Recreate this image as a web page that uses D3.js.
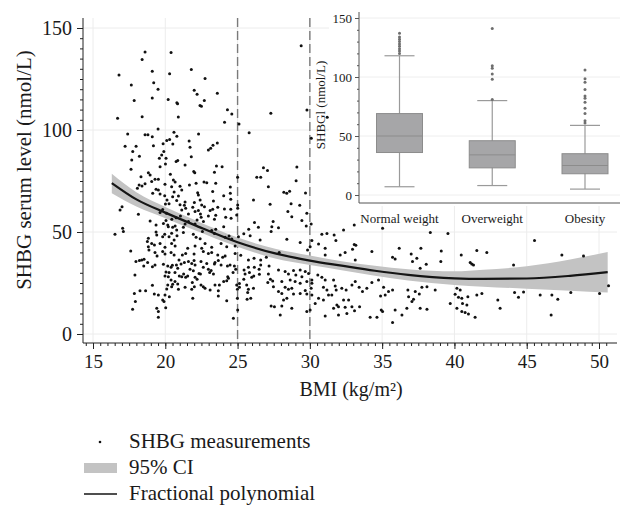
<!DOCTYPE html>
<html>
<head>
<meta charset="utf-8">
<script src="https://cdn.jsdelivr.net/npm/d3@7"></script>
<style>
body { margin: 0; background: #fff; }
svg text { font-family: "Liberation Serif", "DejaVu Serif", serif; fill: #1a1a1a; }
</style>
</head>
<body>
<script>
// SHBG vs BMI, scatter + fractional polynomial fit, inset box plot

// BMI (kg/m2), SHBG (nmol/L)
const measurements = [
  [18.6,138.2],[20.4,138],[18.4,134.5],[16.8,127],[19.1,128.8],[20.3,127.6],[21.8,129.7],[22.75,125.3],[17.65,122],[19.2,123.2],
  [19.5,120],[22.0,119.5],[22.2,117.5],[23.6,118],[17.85,114.4],[19.1,115.7],[20.2,114.9],[20.8,113.4],[20.85,112.9],[22.7,114.5],
  [22.4,112],[22.5,111.6],[24.3,109.9],[24.6,107.8],[16.7,105.7],[18.4,106.5],[20.9,106.4],[24.1,103.8],[25.1,102.9],[27.3,108.2],
  [19.5,100.5],[17.4,98],[18.6,97.7],[18.8,97.7],[19.1,96.7],[20.6,98.9],[20.8,96.9],[22.3,98],[25.8,98.7],[20.3,95.4],
  [29.4,141.3],[29.8,109.8],[31.2,106.2],[30.1,95.9],[29.1,81.9],[29.05,75.1],[28.2,69.5],[28.4,69],[28.6,70],[29.7,69.1],
  [28.7,63.9],[29.3,63.1],[25.0,76.8],
  [17.22,92.0],[17.98,92.0],[19.18,92.3],[19.85,93.3],[20.1,94.8],[20.52,93.1],[21.65,94.6],[21.71,91.5],[23.3,92.5],[23.6,93.6],
  [17.75,89.4],[19.9,89.4],[19.75,87.7],[18.21,87.1],[19.59,86.1],[20.05,86.1],[21.8,86.9],[17.68,85.3],[20.01,83.3],[20.75,84.5],
  [20.86,85.0],[21.37,82.8],[22.98,90.2],[23.14,91.0],
  [17.63,80.7],[19.64,82.0],[21.97,79.6],[22.04,79.1],[23.4,79.3],[23.54,82.4],[23.93,82.0],[26.79,81.5],[27.07,80.1],[18.32,77.1],
  [18.83,79.1],[18.95,77.9],[19.06,74.7],[20.35,78.3],[18.39,72.5],[18.6,73.7],[18.19,73.0],[19.29,75.8],[19.52,75.8],[19.98,73.4],
  [20.56,75.5],[20.68,74.5],[20.44,72.2],[21.02,72.4],[21.67,73.0],[22.13,73.9],[22.68,74.5],[22.87,74.2],[23.28,69.8],[23.49,73.9],
  [24.5,72.1],[26.33,76.8],[26.6,76.8],[27.13,72.2],
  [18.07,71.4],[19.36,70.9],[19.52,70.6],[19.13,69.0],[19.64,68.6],[20.61,69.6],[21.14,70.6],[20.91,67.7],[20.51,67.3],[19.96,67.8],
  [20.12,65.7],[20.01,63.7],[20.26,63.9],[20.79,65.5],[21.02,63.4],[21.37,64.7],[21.41,61.6],[21.32,63.1],[22.29,68.1],[22.24,69.3],
  [22.41,65.7],[22.01,64.4],[22.52,63.2],[22.71,62.4],[23.33,65.2],[24.04,67.8],[24.5,69.0],[24.53,66.0],[23.63,62.1],[24.09,61.3],
  [24.53,61.1],[25.01,63.2],[25.01,61.6],[26.1,65.7],[27.25,63.6],[17.01,62.4],[16.87,60.8],
  [18.14,58.7],[18.95,55.4],[19.64,59.5],[19.82,61.0],[20.08,59.2],[20.05,55.6],[20.17,53.4],[20.45,56.2],[20.75,57.0],[21.05,57.8],
  [21.14,60.8],[21.6,58.8],[21.9,62.1],[22.06,60.1],[22.29,60.5],[22.43,58.8],[22.48,57.2],[22.2,55.9],[22.64,55.1],[22.06,53.9],
  [21.6,55.1],[21.37,53.9],[21.25,52.3],[20.68,52.9],[20.51,52.3],[20.21,52.6],[19.87,54.2],[19.36,53.4],[23.1,60.5],[23.28,61.1],
  [22.98,57.8],[23.4,56.2],[23.49,58.2],[24.18,57.2],[24.04,52.6],[24.55,56.7],[24.94,58.3],[27.46,55.2],[26.17,54.6],
  [16.52,48.9],[17.05,51.8],[17.1,50.2],[19.36,50.0],[19.41,48.5],[19.82,47.7],[19.96,48.9],[20.26,47.7],[20.61,46.1],[20.81,48.2],
  [20.44,49.4],[20.79,51.0],[21.25,49.7],[21.94,48.9],[22.13,47.4],[22.41,46.7],[22.57,50.2],[23.21,50.7],[23.4,49.3],[23.49,51.3],
  [24.14,47.4],[24.41,48.0],[24.6,46.6],[25.06,47.7],[25.43,49.2],[25.77,51.3],[25.87,48.2],[26.44,52.3],[26.56,46.1],[27.32,50.2],
  [27.37,52.6],[18.83,46.9],[18.76,45.3],[19.06,44.4],[19.25,43.6],[18.83,42.8],[19.64,44.4],[19.98,42.5],[20.44,44.4],[20.68,43.1],
  [21.55,42.0],[22.06,43.1],[22.52,42.0],[22.75,44.4],[23.21,42.5],[23.86,44.4],[24.25,42.8],[24.83,43.1],
  [17.61,40.7],[18.87,41.2],[19.29,39.9],[19.43,38.2],[19.82,40.4],[19.98,39.2],[20.4,39.9],[20.61,38.7],[21.18,38.7],[21.41,39.5],
  [21.99,39.2],[22.63,40.4],[22.98,39.5],[23.21,39.9],[23.63,38.7],[23.97,37.6],[24.14,38.2],[24.83,39.5],[25.22,38.6],[25.75,36.3],
  [26.14,37.1],[26.6,36.3],[26.99,37.6],
  [17.97,35.5],[18.21,36.0],[18.37,36.3],[18.53,36.6],[18.78,35.0],[18.51,33.3],[19.11,33.0],[19.29,33.8],[19.87,34.2],[20.17,33.3],
  [20.49,33.7],[20.77,33.8],[20.4,32.7],[20.86,32.2],[21.09,34.3],[21.32,35.0],[20.95,36.3],[21.6,35.5],[21.83,34.6],[21.99,36.0],
  [22.06,33.8],[22.47,35.5],[22.63,32.7],[22.87,34.6],[22.98,31.7],[22.33,29.7],[21.94,31.0],[21.71,31.7],[21.27,29.4],[21.14,28.1],
  [20.97,28.4],[21.41,27.8],[21.55,28.4],[20.67,30.1],[20.26,30.1],[20.05,30.4],[19.98,28.4],[20.21,28.1],[22.06,27.8],[21.87,25.2],
  [22.2,26.8],[22.43,29.4],[23.07,30.1],[23.17,31.1],[23.33,29.4],[23.4,34.3],[23.67,36.0],[23.44,35.0],[23.86,33.8],[24.3,33.3],
  [24.48,33.8],[24.78,33.3],[24.87,31.7],[24.37,27.3],[24.25,26.1],[24.04,25.7],[23.74,24.0],[23.44,24.0],[22.63,23.2],[22.75,22.4],
  [22.47,24.0],[22.01,23.2],[21.83,21.9],[21.37,22.9],[20.91,21.9],[20.51,24.4],[20.44,23.2],[20.1,22.1],[20.86,24.5],[20.67,25.7],
  [20.4,26.5],[20.17,24.0],[24.32,28.1],[24.69,30.1],[24.94,24.0],[25.13,24.8],[25.13,22.9],[24.99,21.9],[25.45,31.4],[25.52,29.4],
  [25.75,32.7],[25.82,30.1],[26.16,32.7],[26.49,31.7],[26.51,29.3],[26.12,28.4],[25.98,27.8],[27.13,29.4],[27.27,26.8],[27.09,25.2],
  [27.43,26.0],[27.18,33.3],[26.6,33.8],[25.43,26.8],[25.63,24.0],[25.75,21.9],[25.7,20.3],[25.91,17.5],[25.66,17.0],[26.1,22.4],
  [27.48,23.2],[27.32,13.7],[27.55,13.4],[17.9,28.9],[17.86,19.9],[18.25,21.2],[18.64,21.2],[19.11,23.9],[19.24,19.6],[19.52,19.1],
  [19.98,19.1],[20.28,18.3],[19.91,15.9],[19.82,16.7],[19.41,12.6],[19.52,11.0],[19.52,8.2],[20.03,12.9],[17.93,15.9],[17.74,12.1],
  [21.9,17.5],[23.1,21.6],[23.67,21.2],[23.67,18.6],[24.25,16.3],[24.99,17.5],[25.01,11.8],[24.71,7.7],
  [28.48,60.0],[28.75,57.5],[29.79,59.2],[29.45,55.6],[29.75,52.9],[30.09,53.9],[27.83,52.1],[33.07,53.4],[32.33,51.0],[35.03,51.8],
  [30.83,48.9],[31.18,49.3],[31.68,48.5],[31.8,45.8],[38.33,49.8],[39.55,49.3],[28.41,46.4],[29.33,44.8],[30.14,45.8],[30.6,44.1],
  [33.07,43.9],[33.18,43.5],[32.95,41.5],[31.06,42.0],[29.84,41.2],[30.02,42.8],[31.06,38.7],[32.1,38.7],[32.44,39.9],[34.29,40.4],
  [36.18,42.0],[37.01,39.2],[37.68,42.0],[39.09,40.7],[35.72,37.6],[35.9,36.8],[37.1,35.5],[37.4,37.1],[37.63,32.2],[38.05,34.2],
  [39.06,35.5],[33.14,36.3],[27.88,39.9],
  [27.83,31.4],[28.29,30.6],[28.52,29.4],[28.87,31.1],[29.03,28.9],[29.33,31.4],[29.45,28.1],[29.68,30.6],[29.91,29.7],[28.64,26.5],
  [28.06,25.7],[28.98,25.7],[29.33,24.9],[29.79,25.7],[30.14,26.5],[28.29,22.9],[28.52,21.9],[27.83,20.8],[28.06,19.9],[28.75,22.4],
  [28.87,19.6],[29.33,19.9],[29.68,21.3],[29.79,19.6],[30.14,19.1],[28.18,16.7],[28.41,17.5],[28.06,13.7],[28.75,12.6],[29.79,11.0],
  [30.02,11.8],[30.14,24.9],[30.09,22.4],[30.55,28.9],[30.83,27.8],[31.06,26.5],[30.94,22.9],[31.18,21.6],[31.64,26.5],[31.75,23.5],
  [31.82,21.6],[31.52,19.1],[30.94,16.7],[30.6,17.5],[30.37,15.0],[31.29,19.1],[32.21,22.4],[32.51,21.6],[32.91,24.0],[33.14,25.7],
  [33.41,22.9],[33.64,20.8],[33.94,22.4],[34.29,25.2],[34.75,26.5],[35.1,22.9],[35.21,19.1],[34.89,18.6],[35.44,20.8],[35.72,21.6],
  [32.33,16.7],[32.68,16.7],[31.98,13.4],[31.64,12.6],[31.87,14.2],[31.06,8.8],[31.98,9.3],[32.44,13.1],[32.91,13.4],[33.44,13.4],
  [33.09,11.4],[32.56,10.1],[34.17,8.2],[34.64,8.2],[34.94,11.8],[35.03,11.0],[35.9,11.8],[35.72,5.6],[36.37,9.3],[36.71,12.6],
  [37.06,15.9],[37.17,17.0],[36.83,18.3],[36.78,21.6],[37.29,20.8],[37.57,19.6],[37.75,22.9],[38.1,23.2],[38.67,21.6],[37.63,12.6],
  [38.1,12.1],[39.71,15.0],[27.95,9.3],
  [45.54,45.8],[41.55,40.9],[42.24,40.0],[40.47,38.7],[41.09,35.1],[41.2,34.3],[41.32,33.8],[44.09,33.8],[47.43,38.7],[48.93,38.2],
  [40.17,22.4],[40.4,21.6],[40.05,19.5],[40.28,18.0],[40.51,17.5],[40.56,15.0],[40.93,18.3],[41.55,19.1],[41.9,19.9],[40.86,14.2],
  [40.17,12.6],[40.51,11.0],[40.74,10.5],[40.97,9.8],[41.43,8.2],[43.0,16.7],[43.16,12.6],[44.16,20.3],[44.43,18.0],[44.78,20.6],
  [45.93,19.1],[46.74,19.1],[47.15,17.0],[48.05,20.3],[46.69,9.3],[50.04,19.9],[50.66,23.7]
];

// fractional polynomial fit and 95% CI
const fitBmi   = [16.3, 18, 20, 22, 25, 27.6, 30, 32.2, 34.5, 36.8, 40, 42, 45, 48, 50.6];
const fitValue = [74, 66, 59.5, 53.5, 45, 39.5, 36, 33.5, 31, 29, 27.3, 27, 27.2, 28.5, 30.3];
const ciLower  = [69, 62.5, 56.8, 51, 42.8, 37, 33.8, 31.3, 28.6, 26.2, 24, 23.2, 22.2, 21.2, 20.3];
const ciUpper  = [78.5, 69.5, 62.3, 56, 47.3, 41.8, 38.5, 35.7, 33.5, 31.8, 30.7, 31.5, 33.2, 36.5, 40.2];

const bmiCutoffs = [25, 30];
const xTicks = [15, 20, 25, 30, 35, 40, 45, 50];
const yTicks = [0, 50, 100, 150];

// inset box plot
const groups      = ["Normal weight", "Overweight", "Obesity"];
const whiskerLow  = [7, 8, 5];
const q1          = [36, 23, 18];
const median      = [50, 34, 25];
const q3          = [69, 46, 35];
const whiskerHigh = [118, 80, 59];
const outliers = [
  [120, 122, 124, 126, 128, 130, 132, 134, 137],
  [81, 98, 102.5, 107.5, 109.5, 141],
  [61, 63, 69, 73.5, 78.5, 82, 84, 89.5, 95.5, 98.5, 106]
];

const legendLabels = ["SHBG measurements", "95% CI", "Fractional polynomial"];

const W = 620, H = 505;
const plotLeft = 83, plotRight = 617, plotTop = 18, plotBottom = 343;
const serif = '"Liberation Serif", "DejaVu Serif", serif';

const svg = d3.select("body").append("svg").attr("width", W).attr("height", H);

const x = d3.scaleLinear().domain([15, 50]).range([93, 599]);
const y = d3.scaleLinear().domain([0, 150]).range([334, 28]);

// grid
svg.append("g").selectAll("line").data(xTicks).join("line")
  .attr("x1", d => x(d)).attr("x2", d => x(d))
  .attr("y1", plotTop).attr("y2", plotBottom)
  .attr("stroke", "#ececec").attr("stroke-width", 1);
svg.append("g").selectAll("line").data(yTicks).join("line")
  .attr("x1", plotLeft).attr("x2", plotRight)
  .attr("y1", d => y(d)).attr("y2", d => y(d))
  .attr("stroke", "#ececec").attr("stroke-width", 1);

// cut-off lines
svg.append("g").selectAll("line").data(bmiCutoffs).join("line")
  .attr("x1", d => x(d)).attr("x2", d => x(d))
  .attr("y1", plotTop).attr("y2", plotBottom)
  .attr("stroke", "#7a7a7a").attr("stroke-width", 1.4)
  .attr("stroke-dasharray", "9,4");

const fitRows = fitBmi.map((b, i) => ({bmi: b, fit: fitValue[i], lo: ciLower[i], hi: ciUpper[i]}));

const band = d3.area()
  .x(d => x(d.bmi)).y0(d => y(d.lo)).y1(d => y(d.hi))
  .curve(d3.curveMonotoneX);
svg.append("path").datum(fitRows).attr("d", band).attr("fill", "#c3c3c3");

svg.append("g").selectAll("circle").data(measurements).join("circle")
  .attr("cx", d => x(d[0])).attr("cy", d => y(d[1]))
  .attr("r", 1.5).attr("fill", "#111");

const fitLine = d3.line().x(d => x(d.bmi)).y(d => y(d.fit)).curve(d3.curveMonotoneX);
svg.append("path").datum(fitRows).attr("d", fitLine)
  .attr("fill", "none").attr("stroke", "#151515").attr("stroke-width", 2.2);

// axes
const axisColor = "#222";
let gx = svg.append("g").attr("transform", `translate(0,${plotBottom})`)
  .call(d3.axisBottom(x).tickValues(xTicks).tickSize(6));
gx.attr("font-family", null);
gx.select(".domain").remove();
gx.selectAll("line").attr("stroke", axisColor);
gx.selectAll("text").attr("dy", null).attr("y", 25).attr("font-size", "19px")
  .style("font-family", serif).attr("fill", "#1a1a1a");
let gxm = svg.append("g").attr("transform", `translate(0,${plotBottom})`)
  .call(d3.axisBottom(x).tickValues(d3.range(14.5, 51, 0.5)).tickSize(3).tickFormat(""));
gxm.select(".domain").remove();
gxm.selectAll("line").attr("stroke", axisColor);

let gy = svg.append("g").attr("transform", `translate(${plotLeft},0)`)
  .call(d3.axisLeft(y).tickValues(yTicks).tickSize(6).tickPadding(5));
gy.attr("font-family", null);
gy.select(".domain").remove();
gy.selectAll("line").attr("stroke", axisColor);
gy.selectAll("text").attr("font-size", "20px")
  .style("font-family", serif).attr("fill", "#1a1a1a");
let gym = svg.append("g").attr("transform", `translate(${plotLeft},0)`)
  .call(d3.axisLeft(y).tickValues(d3.range(0, 155, 5)).tickSize(3).tickFormat(""));
gym.select(".domain").remove();
gym.selectAll("line").attr("stroke", axisColor);

svg.append("line").attr("x1", plotLeft).attr("x2", plotRight)
  .attr("y1", plotBottom).attr("y2", plotBottom).attr("stroke", axisColor);
svg.append("line").attr("x1", plotLeft).attr("x2", plotLeft)
  .attr("y1", plotTop).attr("y2", plotBottom).attr("stroke", axisColor);

svg.append("text").attr("transform", "translate(31,170) rotate(-90)")
  .attr("text-anchor", "middle").attr("font-size", "21px")
  .text("SHBG serum level (nmol/L)");
svg.append("text").attr("x", 351).attr("y", 396)
  .attr("text-anchor", "middle").attr("font-size", "20px")
  .text("BMI (kg/m²)");

// ---- inset ----
const inLeft = 359, inRight = 620, inTop = 12, inBottom = 203;
const yIn = d3.scaleLinear().domain([0, 150]).range([195, 18]);
const xIn = d3.scalePoint().domain(groups).range([399.5, 585]);
const boxW = 46;

svg.append("rect").attr("x", 329).attr("y", 6).attr("width", W - 329).attr("height", 200)
  .attr("fill", "#fff");

svg.append("g").selectAll("line").data(yTicks).join("line")
  .attr("x1", inLeft).attr("x2", inRight)
  .attr("y1", d => yIn(d)).attr("y2", d => yIn(d))
  .attr("stroke", "#eeeeee");

const boxes = groups.map((g, i) => ({g, lo: whiskerLow[i], q1: q1[i], med: median[i], q3: q3[i], hi: whiskerHigh[i], out: outliers[i]}));
const boxG = svg.append("g").selectAll("g").data(boxes).join("g");
boxG.append("line")
  .attr("x1", d => xIn(d.g)).attr("x2", d => xIn(d.g))
  .attr("y1", d => yIn(d.lo)).attr("y2", d => yIn(d.hi))
  .attr("stroke", "#9a9a9a").attr("stroke-width", 1.2);
boxG.append("line")
  .attr("x1", d => xIn(d.g) - 15).attr("x2", d => xIn(d.g) + 15)
  .attr("y1", d => yIn(d.lo)).attr("y2", d => yIn(d.lo))
  .attr("stroke", "#9a9a9a").attr("stroke-width", 1.2);
boxG.append("line")
  .attr("x1", d => xIn(d.g) - 15).attr("x2", d => xIn(d.g) + 15)
  .attr("y1", d => yIn(d.hi)).attr("y2", d => yIn(d.hi))
  .attr("stroke", "#9a9a9a").attr("stroke-width", 1.2);
boxG.append("rect")
  .attr("x", d => xIn(d.g) - boxW / 2).attr("width", boxW)
  .attr("y", d => yIn(d.q3)).attr("height", d => yIn(d.q1) - yIn(d.q3))
  .attr("fill", "#a6a6a8").attr("stroke", "#8c8c8c").attr("stroke-width", 1);
boxG.append("line")
  .attr("x1", d => xIn(d.g) - boxW / 2).attr("x2", d => xIn(d.g) + boxW / 2)
  .attr("y1", d => yIn(d.med)).attr("y2", d => yIn(d.med))
  .attr("stroke", "#8c8c8c").attr("stroke-width", 1);
boxG.each(function(d) {
  d3.select(this).selectAll("circle").data(d.out).join("circle")
    .attr("cx", xIn(d.g)).attr("cy", v => yIn(v))
    .attr("r", 1.5).attr("fill", "#6e6e6e");
});

let gyIn = svg.append("g").attr("transform", `translate(${inLeft},0)`)
  .call(d3.axisLeft(yIn).tickValues(yTicks).tickSize(4).tickPadding(3));
gyIn.attr("font-family", null);
gyIn.select(".domain").remove();
gyIn.selectAll("line").attr("stroke", "#555");
gyIn.selectAll("text").attr("font-size", "13px")
  .style("font-family", serif).attr("fill", "#333");
let gyInM = svg.append("g").attr("transform", `translate(${inLeft},0)`)
  .call(d3.axisLeft(yIn).tickValues(d3.range(0, 155, 10)).tickSize(2).tickFormat(""));
gyInM.select(".domain").remove();
gyInM.selectAll("line").attr("stroke", "#555");

svg.append("line").attr("x1", inLeft).attr("x2", inLeft)
  .attr("y1", inTop).attr("y2", inBottom).attr("stroke", "#555");
svg.append("line").attr("x1", inLeft).attr("x2", inRight)
  .attr("y1", inBottom).attr("y2", inBottom).attr("stroke", "#555");

svg.append("text").attr("transform", "translate(325,105) rotate(-90)")
  .attr("text-anchor", "middle").attr("font-size", "13px").attr("fill", "#333")
  .text("SHBGl (nmol/L)");

svg.append("g").selectAll("text").data(groups).join("text")
  .attr("x", d => xIn(d)).attr("y", 223)
  .attr("text-anchor", "middle").attr("font-size", "13px").attr("fill", "#222")
  .text(d => d);

// ---- legend ----
const legY = [442, 468, 494];
const leg = svg.append("g");
leg.append("circle").attr("cx", 100).attr("cy", legY[0]).attr("r", 1.3).attr("fill", "#111");
leg.append("rect").attr("x", 84).attr("y", legY[1] - 5).attr("width", 33).attr("height", 10).attr("fill", "#c3c3c3");
leg.append("line").attr("x1", 84).attr("x2", 117).attr("y1", legY[2]).attr("y2", legY[2])
  .attr("stroke", "#151515").attr("stroke-width", 1.3);
leg.selectAll("text").data(legendLabels).join("text")
  .attr("x", 129).attr("y", (d, i) => legY[i] + 6)
  .attr("font-size", "21px").text(d => d);
</script>
</body>
</html>
